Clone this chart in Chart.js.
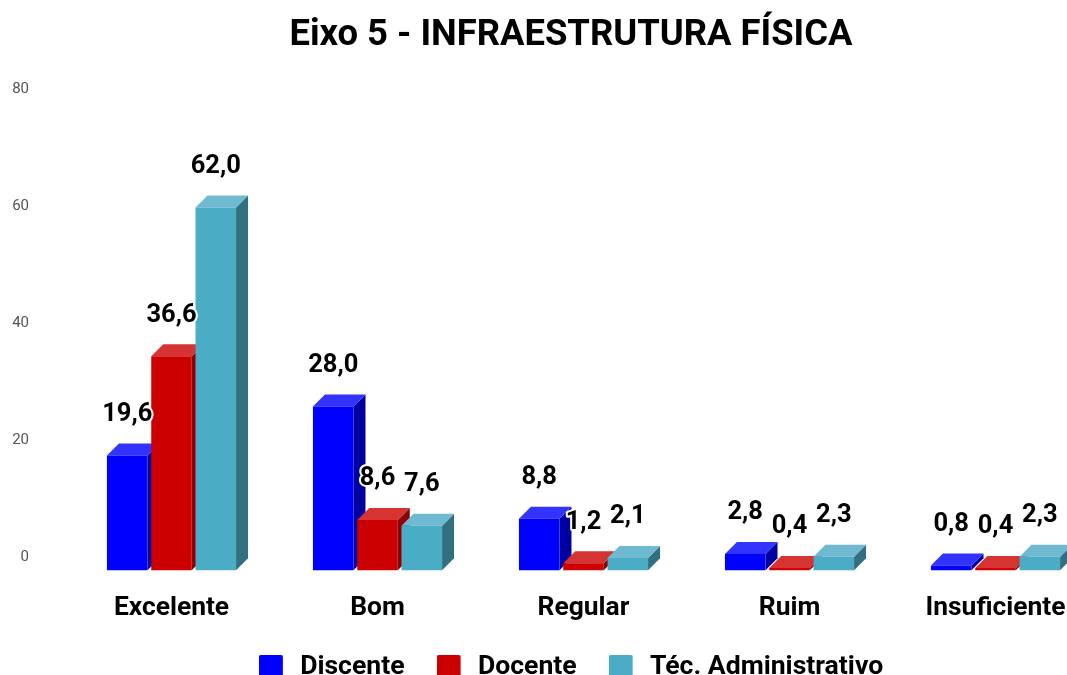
<!DOCTYPE html>
<html><head><meta charset="utf-8">
<style>html,body{margin:0;padding:0;background:#fff;overflow:hidden;width:1067px;height:675px}
#wrap{width:1142px;height:691px}</style>
<script src="https://cdn.jsdelivr.net/npm/chart.js@4"></script></head>
<body><div id="wrap"><canvas id="c" width="1142" height="691"></canvas></div>
<script>
const titleText = 'Eixo 5 - INFRAESTRUTURA FÍSICA';
const categories = ['Excelente','Bom','Regular','Ruim','Insuficiente'];
const discente = [19.6,28.0,8.8,2.8,0.8];
const docente = [36.6,8.6,1.2,0.4,0.4];
const tecnico = [62.0,7.6,2.1,2.3,2.3];
const seriesNames = ['Discente','Docente','Téc. Administrativo'];
const frontColors = ['#0000ff','#cc0000','#4bacc6'];
const topColors = ['#3333ff','#d63333','#6fb9d1'];
const sideColors = ['#0000a0','#8f0000','#33707f'];
const DEPTH = 12;

function swatch(color){
  const c=document.createElement('canvas');c.width=28;c.height=26;
  const x=c.getContext('2d');x.fillStyle=color;x.beginPath();x.roundRect(0,0,24,26,2);x.fill();
  return c;
}
const bars3d={
  id:'bars3d',
  beforeDatasetsDraw(chart){
    const ctx=chart.ctx;
    chart.data.datasets.forEach((ds,i)=>{
      chart.getDatasetMeta(i).data.forEach(el=>{
        const p=el.getProps(['x','y','base','width'],true);
        const l=p.x-p.width/2,r=p.x+p.width/2;
        ctx.fillStyle=sideColors[i];
        ctx.beginPath();ctx.moveTo(r,p.y);ctx.lineTo(r+DEPTH,p.y-DEPTH);ctx.lineTo(r+DEPTH,p.base-DEPTH);ctx.lineTo(r,p.base);ctx.closePath();ctx.fill();
        ctx.fillStyle=topColors[i];
        ctx.beginPath();ctx.moveTo(l,p.y);ctx.lineTo(l+DEPTH,p.y-DEPTH);ctx.lineTo(r+DEPTH,p.y-DEPTH);ctx.lineTo(r,p.y);ctx.closePath();ctx.fill();
        el.draw(ctx);
      });
    });
    return false;
  },
  afterDraw(chart){
    const ctx=chart.ctx;
    ctx.save();
    ctx.font='bold 25.5px Roboto';ctx.textAlign='center';ctx.textBaseline='middle';ctx.lineJoin='round';
    chart.data.datasets.forEach((ds,i)=>{
      chart.getDatasetMeta(i).data.forEach((el,j)=>{
        const p=el.getProps(['x','y'],true);
        const t=ds.data[j].toFixed(1).replace('.',',');
        ctx.strokeStyle='#fff';ctx.lineWidth=4;ctx.strokeText(t,p.x,p.y-41);
        ctx.fillStyle='#000';ctx.fillText(t,p.x,p.y-41);
      });
    });
    ctx.restore();
  }
};
const allValues=[discente,docente,tecnico];
new Chart(document.getElementById('c'),{
  type:'bar',
  data:{labels:categories,datasets:seriesNames.map((n,i)=>({label:n,data:allValues[i],backgroundColor:frontColors[i],borderWidth:0,barPercentage:0.915,categoryPercentage:0.645}))},
  options:{
    responsive:false,animation:false,
    plugins:{
      tooltip:{enabled:false},
      title:{display:true,text:titleText,color:'#000',font:{family:'Roboto',weight:'bold',size:36.4},padding:{top:14,bottom:44.5}},
      legend:{position:'bottom',labels:{
        usePointStyle:true,pointStyleWidth:28,boxHeight:24,padding:32,color:'#000',
        font:{family:'Roboto',weight:'bold',size:26.6},
        generateLabels(chart){
          return Chart.defaults.plugins.legend.labels.generateLabels(chart).map((it,i)=>Object.assign(it,{pointStyle:swatch(frontColors[i])}));
        }
      }}
    },
    scales:{
      x:{grid:{display:false},border:{display:false},
        afterFit(s){s.height=52.1;},
        ticks:{color:'#000',autoSkip:false,maxRotation:0,padding:14,font:{family:'Roboto',weight:'bold',size:26.4}}},
      y:{min:0,max:80,grid:{display:false},border:{display:false},
        afterFit(s){s.width=68.5;},
        ticks:{stepSize:20,color:'#555',padding:31.5,labelOffset:-13,font:{family:'Roboto',size:15}}},
      rightGutter:{position:'right',min:0,max:1,grid:{display:false},border:{display:false},ticks:{display:false},
        afterFit(s){s.width=43.5;}}
    }
  },
  plugins:[bars3d]
});
</script></body></html>
